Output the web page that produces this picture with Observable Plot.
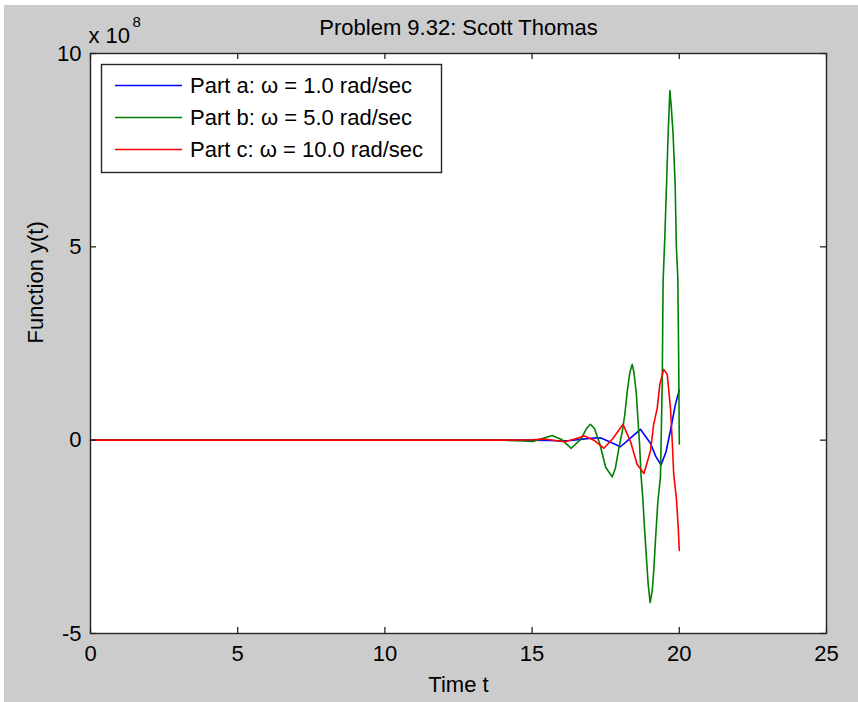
<!DOCTYPE html>
<html><head><meta charset="utf-8">
<script src="https://cdn.jsdelivr.net/npm/d3@7"></script>
<script src="https://cdn.jsdelivr.net/npm/@observablehq/plot@0.6"></script>
<style>
body{margin:0;background:#fff;}
#bg{position:absolute;left:4px;top:5px;width:854px;height:697px;background:#cccccc;}
#chart{position:absolute;left:0;top:0;}
</style></head><body><div id="bg"></div><div id="chart"></div>
<script>
const title = "Problem 9.32: Scott Thomas";
const xLabel = "Time t";
const yLabel = "Function y(t)";
const exponentBase = "x 10";
const exponentPower = "8";
const xTicks = [0, 5, 10, 15, 20, 25];
const yTicks = [-5, 0, 5, 10];
const seriesNames = ["Part a: \u03c9 = 1.0 rad/sec", "Part b: \u03c9 = 5.0 rad/sec", "Part c: \u03c9 = 10.0 rad/sec"];
const seriesColors = ["#0000ff", "#008000", "#ff0000"];

// values in units of 10^8
const tA = [0, 5, 10, 14, 15, 15.6, 16.0, 16.3, 16.64, 17.0, 17.32, 17.65, 18.0, 18.34, 18.68, 19.02, 19.2, 19.38, 19.55, 19.70, 19.87, 20.0];
const yA = [0, 0, 0, 0, 0, -0.01, -0.02, -0.01, 0.02, 0.05, 0.06, -0.05, -0.17, 0.05, 0.28, -0.08, -0.42, -0.64, -0.3, 0.25, 0.93, 1.3];

const tB = [0, 5, 10, 14, 14.7, 15.05, 15.35, 15.68, 16.0, 16.33, 16.65, 16.85, 16.98, 17.12, 17.3, 17.5, 17.72, 17.83, 17.95, 18.07, 18.15, 18.23, 18.32, 18.40, 18.46, 18.54, 18.59, 18.65, 18.70, 18.76, 18.82, 18.88, 18.94, 19.01, 19.08, 19.13, 19.19, 19.27, 19.36, 19.42, 19.45, 19.51, 19.57, 19.62, 19.68, 19.73, 19.79, 19.86, 19.90, 19.95, 19.98, 20.0];
const yB = [0, 0, 0, 0, -0.02, -0.03, 0.04, 0.12, 0.02, -0.21, 0.02, 0.3, 0.41, 0.3, -0.1, -0.7, -0.95, -0.72, -0.2, 0.25, 0.67, 1.25, 1.75, 1.96, 1.75, 1.2, 0.6, -0.1, -0.9, -1.5, -2.3, -3.0, -3.7, -4.2, -3.9, -3.4, -2.6, -1.6, -0.95, 1.5, 4.1, 5.3, 6.7, 7.9, 9.04, 8.6, 7.9, 6.6, 5.0, 4.2, 2.0, -0.1];

const tC = [0, 5, 10, 14, 15, 15.4, 15.8, 16.1, 16.45, 16.78, 17.1, 17.44, 17.75, 18.09, 18.34, 18.57, 18.80, 19.02, 19.13, 19.25, 19.34, 19.47, 19.59, 19.70, 19.76, 19.81, 19.90, 19.96, 20.0];
const yC = [0, 0, 0, 0, 0.01, 0.03, -0.01, -0.04, 0.03, 0.11, 0.0, -0.21, 0.05, 0.41, -0.03, -0.63, -0.86, -0.28, 0.41, 0.83, 1.45, 1.83, 1.7, 0.83, -0.03, -0.88, -1.5, -2.2, -2.85];

const seriesT = [tA, tB, tC];
const seriesY = [yA, yB, yC];

const W = 858, H = 702, mL = 90, mR = 32, mT = 53, mB = 69;
const pw = W - mL - mR, ph = H - mT - mB;
const font = "'Liberation Sans', Arial, sans-serif";
const axisColor = "#262626";
const fs = 22;

const lineMarks = seriesT.map((ts, i) =>
  Plot.line(ts.map((t, j) => ({t, v: seriesY[i][j]})), {x: "t", y: "v", stroke: seriesColors[i], strokeWidth: 1.6})
);

const plot = Plot.plot({
  width: W, height: H,
  marginLeft: mL, marginRight: mR, marginTop: mT, marginBottom: mB,
  style: {fontFamily: font, fontSize: fs + "px", background: "transparent", color: "#000"},
  x: {domain: [0, 25]},
  y: {domain: [-5, 10]},
  marks: [
    Plot.frame({fill: "white", stroke: null}),
    ...lineMarks,
    Plot.tickX(xTicks, {x: d => d, insetTop: ph - 6, stroke: axisColor, strokeWidth: 1.3}),
    Plot.tickX(xTicks, {x: d => d, insetBottom: ph - 6, stroke: axisColor, strokeWidth: 1.3}),
    Plot.tickY(yTicks, {y: d => d, insetRight: pw - 6, stroke: axisColor, strokeWidth: 1.3}),
    Plot.tickY(yTicks, {y: d => d, insetLeft: pw - 6, stroke: axisColor, strokeWidth: 1.3}),
    Plot.frame({stroke: axisColor, strokeWidth: 1.4}),
    Plot.axisX({ticks: xTicks, tickSize: 0, tickPadding: 12, label: null, fontSize: fs, tickFormat: d => String(d)}),
    Plot.axisY({ticks: yTicks, tickSize: 0, tickPadding: 9, label: null, fontSize: fs, tickFormat: d => String(d)}),
    Plot.text([xLabel], {text: d => d, frameAnchor: "bottom", lineAnchor: "middle", dy: 51, fontSize: fs}),
    Plot.text([yLabel], {text: d => d, frameAnchor: "left", lineAnchor: "middle", dx: -55, rotate: -90, fontSize: fs}),
    Plot.text([title], {text: d => d, frameAnchor: "top", lineAnchor: "middle", dy: -26, fontSize: fs}),
    Plot.text([exponentBase], {text: d => d, frameAnchor: "top-left", lineAnchor: "middle", dx: -2, dy: -18, textAnchor: "start", fontSize: fs}),
    Plot.text([exponentPower], {text: d => d, frameAnchor: "top-left", lineAnchor: "middle", dx: 42, dy: -31, textAnchor: "start", fontSize: 15})
  ]
});
document.getElementById("chart").appendChild(plot);

// legend box
const svg = d3.select(plot);
const g = svg.append("g");
g.append("rect").attr("x", 101.5).attr("y", 64.5).attr("width", 340).attr("height", 108)
  .attr("fill", "white").attr("stroke", axisColor).attr("stroke-width", 1.4);
seriesNames.forEach((name, i) => {
  const y = 85.5 + i * 32;
  g.append("line").attr("x1", 115).attr("x2", 182).attr("y1", y).attr("y2", y)
    .attr("stroke", seriesColors[i]).attr("stroke-width", 1.6);
  g.append("text").attr("x", 190).attr("y", y).attr("dy", "0.35em")
    .attr("text-anchor", "start")
    .attr("font-family", font).attr("font-size", fs).attr("fill", "#000").text(name);
});
</script></body></html>
